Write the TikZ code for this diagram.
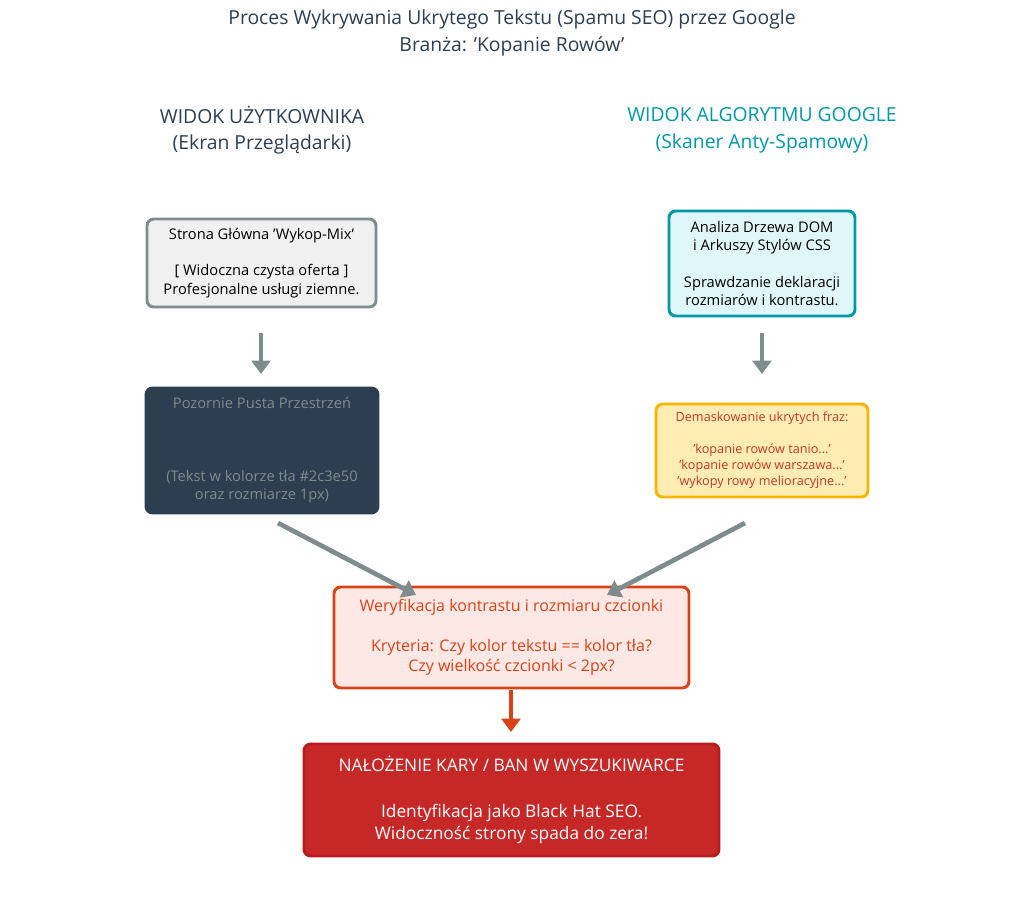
\documentclass[tikz,border=0pt]{standalone}
\usepackage{fontspec}
\setmainfont{Open Sans}
\usetikzlibrary{arrows.meta}
\definecolor{dark}{HTML}{2C3E50}
\definecolor{grayb}{HTML}{7F8C8D}
\definecolor{teal}{HTML}{0097A7}
\definecolor{tealf}{HTML}{E0F7FA}
\definecolor{yelf}{HTML}{FFECB3}
\definecolor{yelb}{HTML}{F4B400}
\definecolor{redt}{HTML}{C0392B}
\definecolor{oran}{HTML}{D84315}
\definecolor{oranf}{HTML}{FDE8E6}
\definecolor{banf}{HTML}{C62828}
\definecolor{banb}{HTML}{B71C1C}
\begin{document}
\begin{tikzpicture}[x=0.75pt,y=-0.75pt,
  box/.style={draw,line width=2.2pt,rounded corners=5pt,align=center,inner sep=0pt},
  arr/.style={draw=grayb,line width=3.5pt,-{Triangle[length=10pt,width=14pt]}},
  hdr/.style={align=center,font=\fontsize{14.5}{20}\selectfont}]
\useasboundingbox (0,0) rectangle (1024,910);
\node[text=dark,hdr] (title) at (512,33) {Proces Wykrywania Ukrytego Tekstu (Spamu SEO) przez Google\\Branża: 'Kopanie Rowów'};
\node[text=dark,hdr] (h1) at (262,130) {WIDOK UŻYTKOWNIKA\\(Ekran Przeglądarki)};
\node[text=teal,hdr] (h2) at (762,130) {WIDOK ALGORYTMU GOOGLE\\(Skaner Anty-Spamowy)};
\node[box,draw=grayb,fill=black!6,minimum width=229*0.75pt,minimum height=88*0.75pt,font=\fontsize{11}{13.7}\selectfont,text=black] (b1) at (261.5,263) {Strona Główna 'Wykop-Mix'\\[13.7pt][ Widoczna czysta oferta ]\\Profesjonalne usługi ziemne.};
\node[box,draw=dark,fill=dark,minimum width=232*0.75pt,minimum height=125*0.75pt,font=\fontsize{11}{13.7}\selectfont,text=grayb] (b2) at (262,450.5) {Pozornie Pusta Przestrzeń\\[41pt](Tekst w kolorze tła \#2c3e50\\oraz rozmiarze 1px)};
\node[box,draw=teal,fill=tealf,minimum width=186*0.75pt,minimum height=105*0.75pt,font=\fontsize{11}{13.7}\selectfont,text=black] (b3) at (762,263.5) {Analiza Drzewa DOM\\i Arkuszy Stylów CSS\\[13.7pt]Sprawdzanie deklaracji\\rozmiarów i kontrastu.};
\node[box,draw=yelb,fill=yelf,minimum width=212*0.75pt,minimum height=93*0.75pt,font=\fontsize{9.5}{12}\selectfont,text=redt] (b4) at (762,450.5) {Demaskowanie ukrytych fraz:\\[12pt]'kopanie rowów tanio...'\\'kopanie rowów warszawa...'\\'wykopy rowy melioracyjne...'};
\node[box,draw=oran,fill=oranf,minimum width=355*0.75pt,minimum height=101*0.75pt,font=\fontsize{12}{15}\selectfont,text=oran] (b5) at (511.5,637.5) {Weryfikacja kontrastu i rozmiaru czcionki\\[15pt]Kryteria: Czy kolor tekstu == kolor tła?\\Czy wielkość czcionki < 2px?};
\node[box,draw=banb,fill=banf,minimum width=415*0.75pt,minimum height=112*0.75pt,font=\fontsize{13}{17}\selectfont,text=white] (b6) at (511.5,800) {NAŁOŻENIE KARY / BAN W WYSZUKIWARCE\\[17pt]Identyfikacja jako Black Hat SEO.\\Widoczność strony spada do zera!};
\coordinate (a1s) at (261,333); \coordinate (a1e) at (261,374);
\coordinate (a2s) at (762,333); \coordinate (a2e) at (762,374);
\coordinate (a3s) at (278,523); \coordinate (a3e) at (416,595);
\coordinate (a4s) at (745,523); \coordinate (a4e) at (607,595);
\coordinate (a5s) at (511,690); \coordinate (a5e) at (511,732);
\draw[arr] (a1s) -- (a1e);
\draw[arr] (a2s) -- (a2e);
\draw[arr] (a3s) -- (a3e);
\draw[arr] (a4s) -- (a4e);
\draw[arr,draw=oran] (a5s) -- (a5e);
\end{tikzpicture}
\end{document}
